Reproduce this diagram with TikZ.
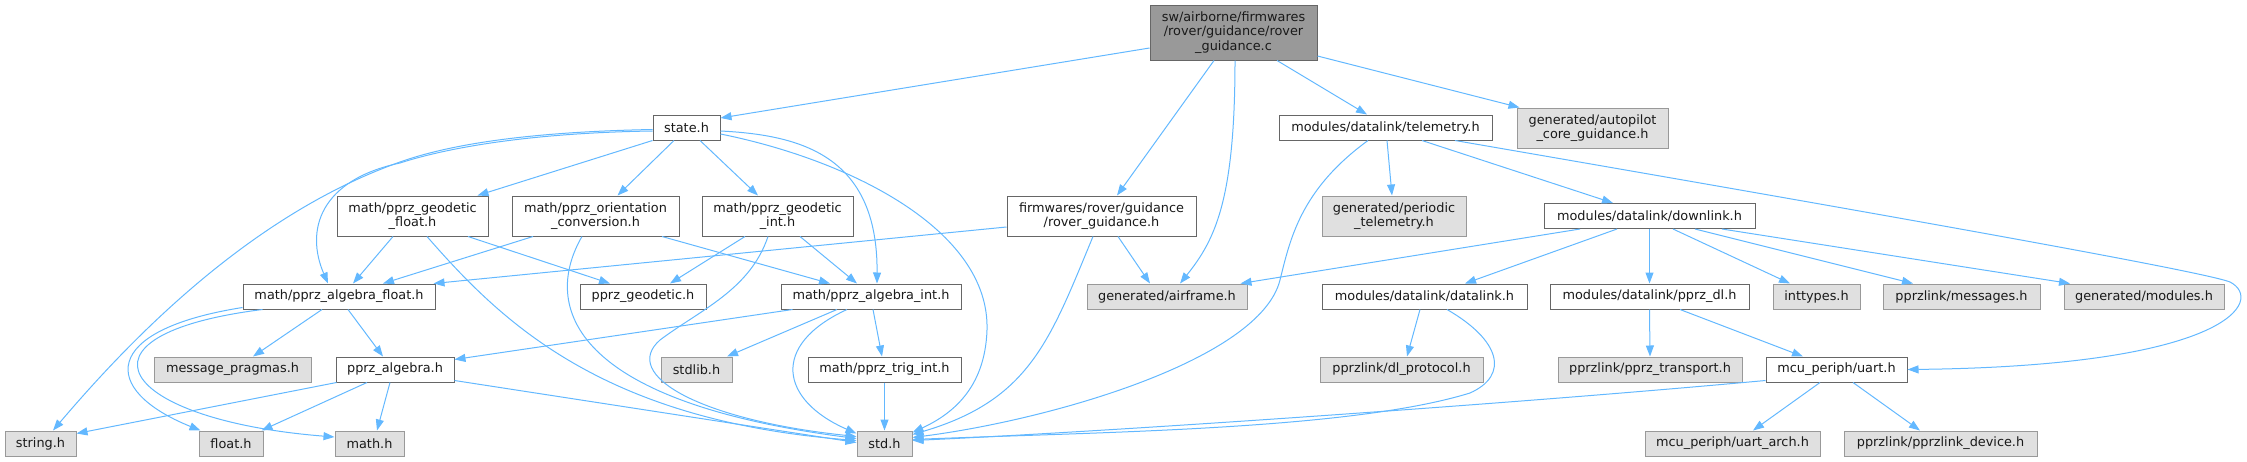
\documentclass[tikz,border=0pt]{standalone}
\usepackage{fontspec}
\setmainfont{DejaVu Sans}
\usetikzlibrary{arrows.meta}
\definecolor{edgec}{HTML}{63B8FF}
\definecolor{bw}{HTML}{666666}
\definecolor{gb}{HTML}{999999}
\definecolor{gf}{HTML}{E0E0E0}
\definecolor{rootf}{HTML}{999999}
\definecolor{txt}{HTML}{1A1A1A}
\begin{document}
\begin{tikzpicture}[x=1pt,y=-1pt,
  nd/.style={draw, line width=1pt, inner sep=0pt, align=center, font=\fontsize{12.85}{14.7}\selectfont, text=txt},
  box/.style={nd, draw=bw, fill=white},
  ext/.style={nd, draw=gb, fill=gf},
  rootn/.style={nd, draw=bw, fill=rootf},
  sz/.style 2 args={minimum width=#1pt, minimum height=#2pt},
  e/.style={draw=edgec, line width=1pt, -{Triangle[length=11pt,width=8pt]}}]
\useasboundingbox (0,0) rectangle (2247,461);
% row 0
\node[rootn, sz={167}{55}] (root) at (1233.5,32.5) {sw/airborne/firmwares\\/rover/guidance/rover\\\_guidance.c};
% row 1
\node[box, sz={67}{25}] (state) at (686.5,127.5) {state.h};
\node[box, sz={213}{25}] (telem) at (1385.5,127.5) {modules/datalink/telemetry.h};
\node[ext, sz={151}{40}] (autop) at (1592.5,128) {generated/autopilot\\\_core\_guidance.h};
% row 2
\node[box, sz={151}{40}] (geofloat) at (412.5,216) {math/pprz\_geodetic\\\_float.h};
\node[box, sz={167}{40}] (orient) at (595.5,216) {math/pprz\_orientation\\\_conversion.h};
\node[box, sz={151}{40}] (geoint) at (777.5,216) {math/pprz\_geodetic\\\_int.h};
\node[box, sz={189}{40}] (rovh) at (1101.5,216) {firmwares/rover/guidance\\/rover\_guidance.h};
\node[ext, sz={144}{40}] (periodic) at (1394,216) {generated/periodic\\\_telemetry.h};
\node[box, sz={211}{25}] (downlink) at (1649.5,216) {modules/datalink/downlink.h};
% row 3
\node[box, sz={192}{25}] (algfloat) at (339,296.5) {math/pprz\_algebra\_float.h};
\node[box, sz={126}{25}] (geodetic) at (643,296.5) {pprz\_geodetic.h};
\node[box, sz={180}{25}] (algint) at (871,296.5) {math/pprz\_algebra\_int.h};
\node[ext, sz={160}{25}] (airframe) at (1167,296.5) {generated/airframe.h};
\node[box, sz={205}{25}] (datalink) at (1424.5,296.5) {modules/datalink/datalink.h};
\node[box, sz={199}{25}] (pprzdl) at (1649.5,296.5) {modules/datalink/pprz\_dl.h};
\node[ext, sz={87}{25}] (inttypes) at (1816.5,296.5) {inttypes.h};
\node[ext, sz={157}{25}] (messages) at (1961.5,296.5) {pprzlink/messages.h};
\node[ext, sz={160}{25}] (modules) at (2144,296.5) {generated/modules.h};
% row 4
\node[ext, sz={157}{25}] (pragmas) at (232.5,369.5) {message\_pragmas.h};
\node[box, sz={118}{25}] (palg) at (395,369.5) {pprz\_algebra.h};
\node[ext, sz={71}{25}] (stdlib) at (696.5,369.5) {stdlib.h};
\node[box, sz={153}{25}] (trig) at (884.5,369.5) {math/pprz\_trig\_int.h};
\node[ext, sz={163}{25}] (dlproto) at (1401.5,369.5) {pprzlink/dl\_protocol.h};
\node[ext, sz={184}{25}] (transport) at (1650,369.5) {pprzlink/pprz\_transport.h};
\node[box, sz={141}{25}] (uart) at (1836.5,369.5) {mcu\_periph/uart.h};
% row 5
\node[ext, sz={71}{25}] (string) at (40.5,443.5) {string.h};
\node[ext, sz={64}{25}] (float) at (231,443.5) {float.h};
\node[ext, sz={69}{25}] (math) at (369.5,443.5) {math.h};
\node[ext, sz={55}{25}] (std) at (884.5,443.5) {std.h};
\node[ext, sz={175}{25}] (uartarch) at (1732.5,443.5) {mcu\_periph/uart\_arch.h};
\node[ext, sz={193}{25}] (device) at (1940.5,443.5) {pprzlink/pprzlink\_device.h};
% edges from root
\draw[e] ([yshift=-15.5pt]root.west) -- ([yshift=9.5pt]state.east);
\draw[e] ([xshift=-19.5pt]root.south) -- ([xshift=15.5pt]rovh.north);
\draw[e] ([xshift=1.5pt]root.south) .. controls (1235,200) and (1215,240) .. ([xshift=13pt]airframe.north);
\draw[e] ([xshift=43.5pt]root.south) -- ([xshift=-18.5pt]telem.north);
\draw[e] ([yshift=-23.5pt]root.east) -- ([xshift=3pt]autop.north west);
% edges from state
\draw[e] ([yshift=-2pt]state.west) .. controls (520,132) and (445,146) .. (400,162) .. controls (250,215) and (130,340) .. ([xshift=12.5pt]string.north);
\draw[e] ([yshift=-3.5pt]state.west) .. controls (520,133) and (440,150) .. (400,163) .. controls (320,180) and (305,230) .. ([xshift=-11pt]algfloat.north);
\draw[e] (state.south west) -- ([xshift=65pt]geofloat.north);
\draw[e] ([xshift=-12.5pt]state.south) -- ([xshift=22pt]orient.north);
\draw[e] ([xshift=13.5pt]state.south) -- ([xshift=-19.5pt]geoint.north);
\draw[e] ([yshift=-3.5pt]state.east) .. controls (800,135) and (878,155) .. ([xshift=6pt]algint.north);
\draw[e] ([yshift=-6.5pt]state.east) .. controls (850,160) and (990,230) .. (987,330) .. controls (985,390) and (950,415) .. ([yshift=11pt]std.east);
% geodetic float
\draw[e] ([xshift=-19.5pt]geofloat.south) -- ([xshift=14pt]algfloat.north);
\draw[e] ([xshift=55.5pt]geofloat.south) -- ([xshift=-33pt]geodetic.north);
\draw[e] ([xshift=14.5pt]geofloat.south) .. controls (500,320) and (600,420) .. ([yshift=3pt]std.west);
% orientation
\draw[e] ([xshift=-62.5pt]orient.south) -- ([xshift=44pt]algfloat.north);
\draw[e] ([xshift=66.5pt]orient.south) -- ([xshift=-41pt]algint.north);
\draw[e] ([xshift=-13.5pt]orient.south) .. controls (545,300) and (560,400) .. ([yshift=5pt]std.west);
% geodetic int
\draw[e] ([xshift=-32.5pt]geoint.south) -- ([xshift=27pt]geodetic.north);
\draw[e] ([xshift=22.5pt]geoint.south) -- ([xshift=-14pt]algint.north);
\draw[e] ([xshift=-9.5pt]geoint.south) .. controls (750,290) and (700,310) .. (660,340) .. controls (620,375) and (700,420) .. ([yshift=7pt]std.west);
% rover guidance h
\draw[e] ([yshift=-11pt]rovh.west) -- ([xshift=-2pt]algfloat.north east);
\draw[e] ([xshift=16.5pt]rovh.south) -- ([xshift=-17pt]airframe.north);
\draw[e] ([xshift=-8.5pt]rovh.south) .. controls (1050,340) and (1030,400) .. ([yshift=9pt]std.east);
% telemetry
\draw[e] ([xshift=1.5pt]telem.south) -- ([xshift=-2pt]periodic.north);
\draw[e] ([xshift=36.5pt]telem.south) -- ([xshift=-36.5pt]downlink.north);
\draw[e] ([xshift=-17.5pt]telem.south) .. controls (1300,190) and (1290,240) .. (1280,280) .. controls (1260,360) and (1050,420) .. ([yshift=6pt]std.east);
\draw[e] ([xshift=69.5pt]telem.south) .. controls (1800,200) and (2200,270) .. (2230,282) .. controls (2265,300) and (2230,366) .. (uart.east);
% downlink
\draw[e] ([xshift=-69.5pt]downlink.south) -- ([xshift=-7pt]airframe.north east);
\draw[e] ([xshift=-32.5pt]downlink.south) -- ([xshift=40.5pt]datalink.north);
\draw[e] (downlink.south) -- (pprzdl.north);
\draw[e] ([xshift=23.5pt]downlink.south) -- ([xshift=-26.5pt]inttypes.north);
\draw[e] ([xshift=45.5pt]downlink.south) -- ([xshift=-48.5pt]messages.north);
\draw[e] ([xshift=72.5pt]downlink.south) -- ([xshift=-74pt]modules.north);
% datalink
\draw[e] ([xshift=-4.5pt]datalink.south) -- ([xshift=5.5pt]dlproto.north);
\draw[e] ([xshift=22.5pt]datalink.south) .. controls (1500,340) and (1510,375) .. (1470,393) .. controls (1350,430) and (1100,432) .. ([yshift=4pt]std.east);
% pprz_dl
\draw[e] (pprzdl.south) -- (transport.north);
\draw[e] ([xshift=30.5pt]pprzdl.south) -- ([xshift=-33.5pt]uart.north);
% algebra float
\draw[e] ([xshift=-17pt]algfloat.south) -- ([xshift=20.5pt]pragmas.north);
\draw[e] ([xshift=9pt]algfloat.south) -- ([xshift=-12pt]palg.north);
\draw[e] ([yshift=2pt]algfloat.south west) .. controls (100,330) and (100,390) .. ([xshift=2pt]float.north west);
\draw[e] ([xshift=20pt]algfloat.south west) .. controls (60,335) and (120,420) .. ([yshift=6.5pt]math.west);
% algebra int
\draw[e] ([xshift=12pt]algint.south west) -- ([yshift=10pt]palg.east);
\draw[e] ([xshift=-34pt]algint.south) -- ([xshift=30.5pt]stdlib.north);
\draw[e] ([xshift=2pt]algint.south) -- ([xshift=-2.5pt]trig.north);
\draw[e] ([xshift=-24pt]algint.south) .. controls (770,345) and (780,400) .. ([yshift=10pt]std.west);
% pprz_algebra
\draw[e] ([xshift=1pt]palg.south west) -- ([yshift=10pt]string.east);
\draw[e] ([xshift=-28pt]palg.south) -- ([xshift=-2pt]float.north east);
\draw[e] ([xshift=-5pt]palg.south) -- ([xshift=7.5pt]math.north);
\draw[e] ([yshift=2pt]palg.south east) -- ([yshift=1pt]std.west);
% trig
\draw[e] (trig.south) -- (std.north);
% uart
\draw[e] ([yshift=2pt]uart.south west) .. controls (1500,405) and (1100,432) .. ([yshift=3pt]std.east);
\draw[e] ([xshift=-16.5pt]uart.south) -- ([xshift=20.5pt]uartarch.north);
\draw[e] ([xshift=16.5pt]uart.south) -- ([xshift=-20.5pt]device.north);
\end{tikzpicture}
\end{document}
